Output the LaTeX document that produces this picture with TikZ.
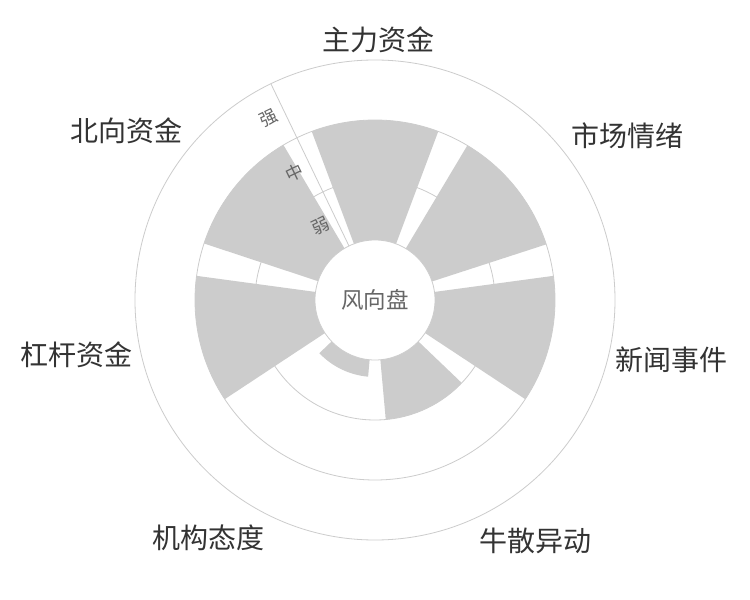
\documentclass[tikz,border=0pt]{standalone}
\usepackage{fontspec}
\setmainfont{Noto Sans CJK SC}
\usetikzlibrary{calc}
\definecolor{barfill}{HTML}{CCCCCC}
\definecolor{gridline}{HTML}{CCCCCC}
\definecolor{labeltext}{HTML}{333333}
\definecolor{axistext}{HTML}{666666}
\def\sectorbar[#1](#2:#3:#4:#5){\fill[#1] (#2:#4) arc (#2:#3:#4) -- (#3:#5) arc (#3:#2:#5) -- cycle;}
\tikzset{
  catlabel/.style={inner sep=0pt, text=labeltext, font=\fontsize{28}{28}\selectfont},
  ticklabel/.style={inner sep=0pt, text=axistext, rotate=25.71, font=\fontsize{17.5}{17.5}\selectfont}
}

\begin{document}
\begin{tikzpicture}
		%%%%% START %%%%%
		\useasboundingbox[fill=white] (-375pt, -300pt) rectangle (375pt, 300pt);
		
		\draw[line width=0.8pt, color=gridline] (0, 0) circle (240pt);
		\draw[line width=0.8pt, color=gridline] (0, 0) circle (180pt);
		\draw[line width=0.8pt, color=gridline] (0, 0) circle (120pt);
		\draw[line width=0.8pt, color=gridline] (115.71:60pt) -- (115.71:240pt);
		
		\sectorbar[barfill](69.43:110.57:60pt:180pt)
		\sectorbar[barfill](18.00:59.14:60pt:180pt)
		\sectorbar[barfill](-33.43:7.71:60pt:180pt)
		\sectorbar[barfill](-84.86:-43.71:60pt:120pt)
		\sectorbar[barfill](-136.29:-95.14:60pt:77pt)
		\sectorbar[barfill](172.29:213.43:60pt:180pt)
		\sectorbar[barfill](120.57:161.71:60pt:180pt)
		
		\draw[line width=0.8pt, color=gridline, fill=white] (0, 0) circle (60pt);
		\node[text=axistext, font=\fontsize{22.5}{22.5}\selectfont, inner sep=0pt] (pan) at (0, 0) {风向盘};
		
		\node[ticklabel] (ruo) at ($(115.71:90pt)+(205.71:17pt)$) {弱};
		\node[ticklabel] (zhong) at ($(115.71:150pt)+(205.71:17pt)$) {中};
		\node[ticklabel] (qiang) at ($(115.71:210pt)+(205.71:17pt)$) {强};
		
		\node[catlabel] (zhuli) at (4pt, 260pt) {主力资金};
		\node[catlabel] (shichang) at (252pt, 164.5pt) {市场情绪};
		\node[catlabel] (xinwen) at (296pt, -60pt) {新闻事件};
		\node[catlabel] (niusan) at (160.5pt, -240.5pt) {牛散异动};
		\node[catlabel] (jigou) at (-166.5pt, -237.5pt) {机构态度};
		\node[catlabel] (ganggan) at (-298pt, -54.5pt) {杠杆资金};
		\node[catlabel] (beixiang) at (-248pt, 169.5pt) {北向资金};
		
		%%%%% END %%%%%
	\end{tikzpicture}
\end{document}
